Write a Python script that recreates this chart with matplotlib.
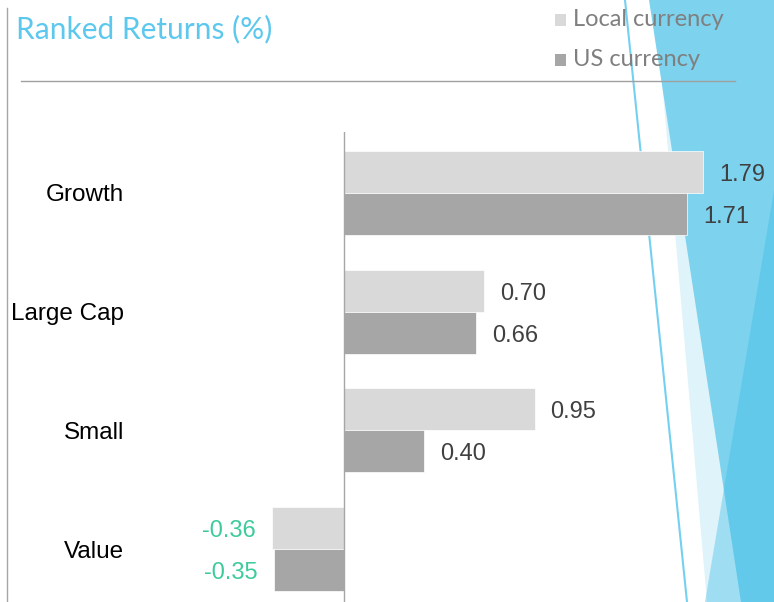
import matplotlib
matplotlib.use("Agg")
import matplotlib.pyplot as plt
from matplotlib.patches import Polygon, Rectangle
from matplotlib.lines import Line2D
import numpy as np

# ---- data ----
categories = ["Growth", "Large Cap", "Small", "Value"]
local_currency = [1.79, 0.70, 0.95, -0.36]
us_currency = [1.71, 0.66, 0.40, -0.35]
series_names = ["Local currency", "US currency"]
title = "Ranked Returns (%)"

# ---- styles ----
W, H = 774, 602
DPI = 100
col_local = "#D9D9D9"
col_us = "#A6A6A6"
col_pos = "#404040"
col_neg = "#3ECB9A"
col_title = "#5CC8EE"

fig = plt.figure(figsize=(W / DPI, H / DPI), dpi=DPI)
fig.patch.set_facecolor("white")

def fx(x):
    return x / W

def fy(y):
    return 1 - y / H

def fpoly(pts, **kw):
    p = Polygon([(fx(a), fy(b)) for a, b in pts], closed=True,
                transform=fig.transFigure, linewidth=0, **kw)
    fig.add_artist(p)
    return p

# decorative background shapes (slide theme)
fpoly([(655, 0), (774, 0), (774, 602), (707, 602)], facecolor="#DFF3FA", zorder=-3)
fpoly([(649, 0), (774, 0), (774, 602), (741, 602)], facecolor="#7DD2EE", zorder=-2)
fpoly([(774, 190), (774, 602), (705, 602)], facecolor=(55 / 255, 187 / 255, 229 / 255),
      alpha=0.38, zorder=-1)
fig.add_artist(Line2D([fx(625), fx(687)], [fy(0), fy(602)], transform=fig.transFigure,
                      color="#74D0F0", linewidth=1.5, zorder=-1))
# slide left border & title rule
fig.add_artist(Line2D([fx(7), fx(7)], [fy(8), fy(602)], transform=fig.transFigure,
                      color="#A6A6A6", linewidth=1.0))
fig.add_artist(Line2D([fx(21), fx(735)], [fy(81), fy(81)], transform=fig.transFigure,
                      color="#A0A0A0", linewidth=1.0))

# title
fig.text(fx(16), fy(29), title, fontsize=21.5, color=col_title, family="Lato",
         ha="left", va="center")

# legend (manual)
for i, (name, c) in enumerate(zip(series_names, [col_local, col_us])):
    yc = 20 + 40 * i
    fig.add_artist(Rectangle((fx(555), fy(yc + 6)), 11 / W, 12 / H,
                             transform=fig.transFigure, facecolor=c, edgecolor="none"))
    fig.text(fx(573), fy(yc), name, fontsize=17, color="#7F7F7F", family="Lato",
             ha="left", va="center")

# ---- axes ----
ax_left, ax_right, ax_top, ax_bottom = 130, 774, 132, 602
ax = fig.add_axes([fx(ax_left), fy(ax_bottom), (ax_right - ax_left) / W,
                   (ax_bottom - ax_top) / H])
ax.patch.set_visible(False)

scale = 200.6  # px per unit
x0 = (ax_left - 344) / scale
x1 = (ax_right - 344) / scale
ax.set_xlim(x0, x1)

spacing = 118.7
ax.set_ylim(3 + (602 - 549) / spacing, -(193 - 132) / spacing)

y = np.arange(len(categories))
bh = 42 / spacing
off = bh / 2
b1 = ax.barh(y - off, local_currency, height=bh, color=col_local, edgecolor="white",
             linewidth=0.5, zorder=2)
b2 = ax.barh(y + off, us_currency, height=bh, color=col_us, edgecolor="white",
             linewidth=0.5, zorder=2)

ax.axvline(0, color="#A6A6A6", linewidth=1.0, zorder=3)

for s in ax.spines.values():
    s.set_visible(False)
ax.set_xticks([])
ax.set_yticks(y)
ax.set_yticklabels(categories, fontsize=17.5, family="Liberation Sans", color="black")
ax.tick_params(axis="y", length=0, pad=4)
for t in ax.get_yticklabels():
    t.set_y(t.get_position()[1])

pad_px = 16
for bars, vals in ((b1, local_currency), (b2, us_currency)):
    for rect, v in zip(bars, vals):
        yc = rect.get_y() + rect.get_height() / 2
        if v >= 0:
            ax.annotate(f"{v:.2f}", (v, yc), xytext=(pad_px * 0.72, -2.2),
                        textcoords="offset points", ha="left", va="center",
                        fontsize=17, family="Liberation Sans", color=col_pos)
        else:
            ax.annotate(f"{v:.2f}", (v, yc), xytext=(-pad_px * 0.72, -2.2),
                        textcoords="offset points", ha="right", va="center",
                        fontsize=17, family="Liberation Sans", color=col_neg)

fig.savefig("out.png", dpi=DPI)
